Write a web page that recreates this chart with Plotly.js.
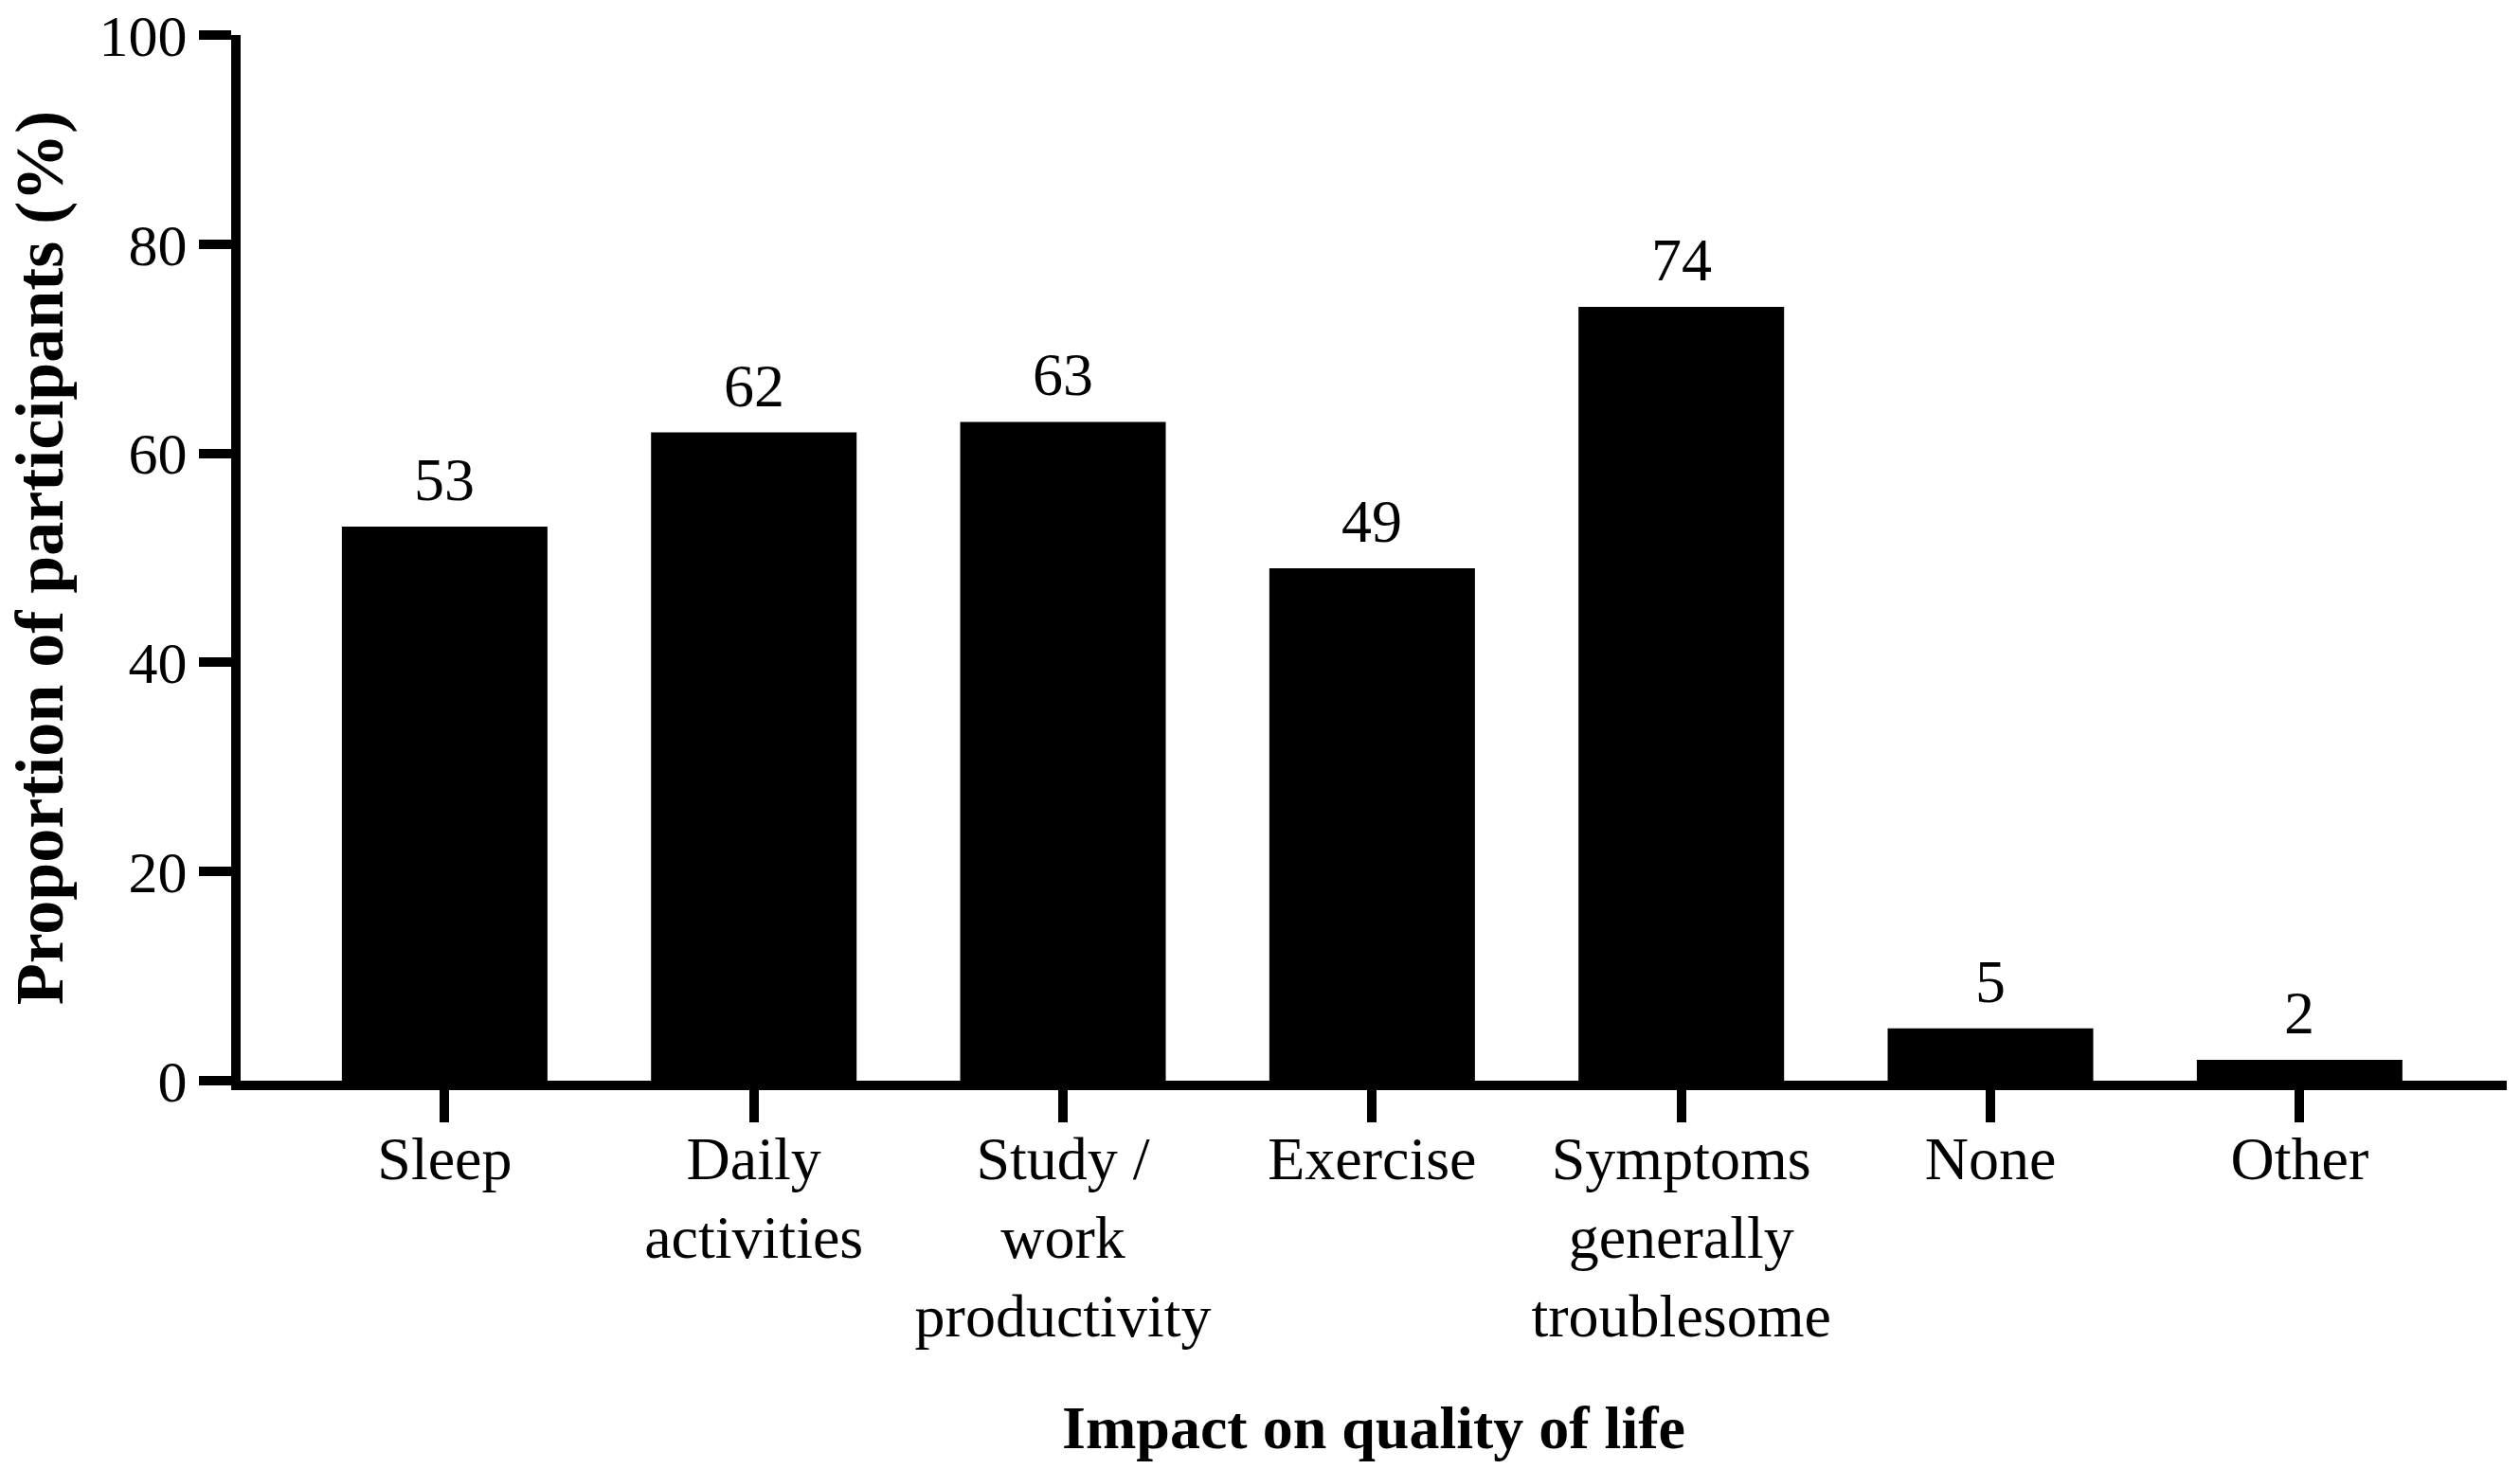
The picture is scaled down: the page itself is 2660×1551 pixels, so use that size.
<!DOCTYPE html>
<html>
<head>
<meta charset="utf-8">
<script src="https://cdn.plot.ly/plotly-3.0.1.min.js"></script>
<style>html,body{margin:0;padding:0;background:#fff;}</style>
</head>
<body>
<div id="chart" style="width:2660px;height:1551px;"></div>
<script>
const categories = ["Sleep", "Daily<br>activities", "Study /<br>work<br>productivity", "Exercise", "Symptoms<br>generally<br>troublesome", "None", "Other"];
const values = [53, 62, 63, 49, 74, 5, 2];
const yTicks = [0, 20, 40, 60, 80, 100];

const FONT = "Liberation Serif, DejaVu Serif, serif";

const trace = {
  type: "bar",
  x: categories,
  y: values,
  width: 0.665,
  marker: {color: "#000000", line: {width: 0}},
  hoverinfo: "none"
};

const annotations = categories.map((c, i) => ({
  x: c, y: values[i], xref: "x", yref: "y",
  text: String(values[i]), showarrow: false,
  yanchor: "bottom", yshift: 12,
  font: {family: FONT, size: 64, color: "#000"}
}));

const layout = {
  width: 2660, height: 1551,
  margin: {l: 254, r: 14, t: 37, b: 410},
  paper_bgcolor: "#fff", plot_bgcolor: "#fff",
  showlegend: false,
  font: {family: FONT, size: 62, color: "#000"},
  xaxis: {
    range: [-0.66, 6.67],
    showline: true, linecolor: "#000", linewidth: 10,
    ticks: "outside", ticklen: 34, tickwidth: 10, tickcolor: "#000",
    ticklabelstandoff: -17,
    showgrid: false, zeroline: false,
    tickfont: {family: FONT, size: 64, color: "#000"},
    title: {text: "<b>Impact on quality of life</b>", font: {family: FONT, size: 64, color: "#000"}, standoff: 64},
    automargin: false
  },
  yaxis: {
    range: [0, 100],
    tickvals: yTicks, ticktext: yTicks.map(String),
    showline: true, linecolor: "#000", linewidth: 10,
    ticks: "outside", ticklen: 34, tickwidth: 10, tickcolor: "#000",
    showgrid: false, zeroline: false,
    tickfont: {family: FONT, size: 62, color: "#000"},
    title: {text: "<b>Proportion of participants (%)</b>", font: {family: FONT, size: 72, color: "#000"}, standoff: 18},
    automargin: false
  },
  annotations: annotations
};

Plotly.newPlot("chart", [trace], layout, {staticPlot: true, displayModeBar: false});
</script>
</body>
</html>
